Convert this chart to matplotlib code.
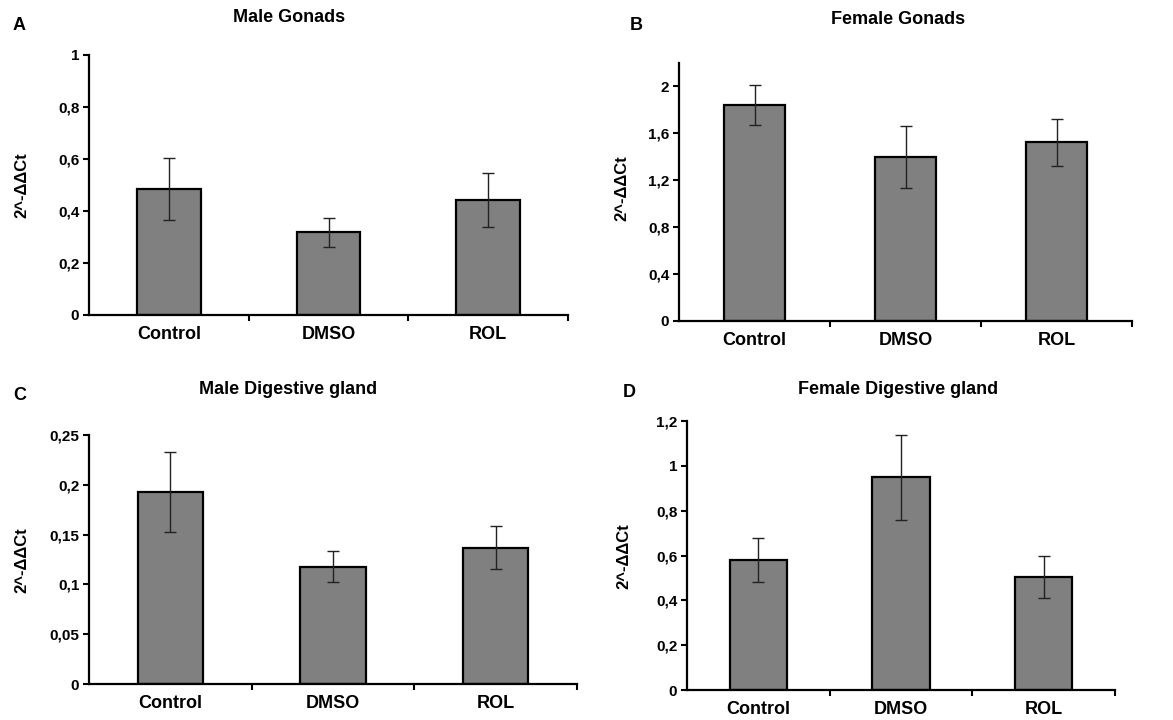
import numpy as np
import matplotlib
matplotlib.use('Agg')
import matplotlib.pyplot as plt
from matplotlib.ticker import FuncFormatter, FixedLocator

plt.rcParams['font.family'] = ['Liberation Sans', 'DejaVu Sans']
plt.rcParams['font.weight'] = 'bold'

groups = ['Control', 'DMSO', 'ROL']

titles = ['Male Gonads', 'Female Gonads', 'Male Digestive gland', 'Female Digestive gland']
letters = ['A', 'B', 'C', 'D']

# means and error (SE) for each panel
male_gonads = [0.485, 0.318, 0.442]
male_gonads_err = [0.12, 0.057, 0.105]
female_gonads = [1.844, 1.398, 1.523]
female_gonads_err = [0.172, 0.267, 0.199]
male_dg = [0.1925, 0.1178, 0.137]
male_dg_err = [0.040, 0.0155, 0.022]
female_dg = [0.580, 0.949, 0.503]
female_dg_err = [0.097, 0.190, 0.093]

W, H = 1173, 720
fig = plt.figure(figsize=(W / 100, H / 100), dpi=100)

def box(l, r, t, b):
    return [l / W, 1 - b / H, (r - l) / W, (b - t) / H]

def comma(v, pos):
    return ('%g' % round(v, 4)).replace('.', ',')

panels = [
    (box(89, 568, 55, 315), male_gonads, male_gonads_err, (0, 1), np.arange(0, 1.01, 0.2)),
    (box(679, 1132, 63, 321), female_gonads, female_gonads_err, (0, 2.2), np.arange(0, 2.01, 0.4)),
    (box(89, 577, 435, 684), male_dg, male_dg_err, (0, 0.25), np.arange(0, 0.251, 0.05)),
    (box(687, 1115, 421, 690), female_dg, female_dg_err, (0, 1.2), np.arange(0, 1.21, 0.2)),
]

x = np.arange(len(groups))
for rect, vals, errs, ylim, yt in panels:
    ax = fig.add_axes(rect)
    ax.bar(x, vals, width=0.4, color='#808080', edgecolor='black', linewidth=1.6, zorder=2)
    ax.errorbar(x, vals, yerr=errs, fmt='none', ecolor='#222222', elinewidth=1.0,
                capsize=4, capthick=1.0, zorder=3)
    ax.set_xlim(-0.5, 2.5)
    ax.set_ylim(*ylim)
    ax.set_yticks(yt)
    ax.yaxis.set_major_formatter(FuncFormatter(comma))
    ax.set_xticks(x)
    ax.set_xticklabels(groups, fontsize=13, fontweight='bold')
    ax.xaxis.set_minor_locator(FixedLocator([0.5, 1.5, 2.5]))
    ax.tick_params(axis='x', which='major', length=0, pad=8)
    ax.tick_params(axis='x', which='minor', length=4, width=1.5, direction='out')
    ax.tick_params(axis='y', length=4, width=1.5, direction='out', labelsize=11, pad=3)
    for s in ['top', 'right']:
        ax.spines[s].set_visible(False)
    for s in ['left', 'bottom']:
        ax.spines[s].set_linewidth(1.6)
    for lab in ax.get_yticklabels():
        lab.set_fontweight('bold')

# panel titles, letters and y labels
title_pos = [(289, 18), (898, 20), (288, 390), (898, 390)]
letter_pos = [(13, 25), (630, 25), (13, 395), (623, 393)]
ylab_pos = [(22, 185), (622, 188), (22, 560), (624, 556)]
for i in range(4):
    tx, ty = title_pos[i]
    fig.text(tx / W, 1 - ty / H, titles[i], ha='center', va='center', fontsize=13, fontweight='bold')
    lx, ly = letter_pos[i]
    fig.text(lx / W, 1 - ly / H, letters[i], ha='left', va='center', fontsize=13, fontweight='bold')
    yx, yy = ylab_pos[i]
    fig.text(yx / W, 1 - yy / H, '2^-ΔΔCt', ha='center', va='center', rotation=90,
             fontsize=12, fontweight='bold')

fig.savefig('out.png', dpi=100)
